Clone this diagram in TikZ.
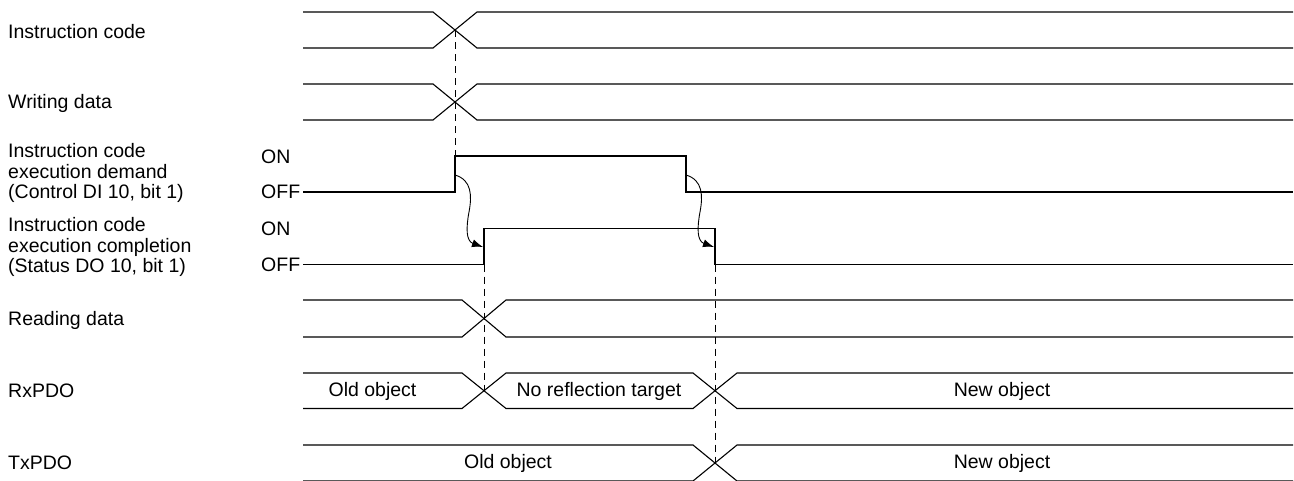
\documentclass[tikz,border=0pt]{standalone}
\usepackage{fontspec}
\setmainfont{Liberation Sans}
\usetikzlibrary{arrows.meta}
\begin{document}
\begin{tikzpicture}[x=1pt,y=-1pt,
  sig/.style={line width=1.1pt, line join=miter},
  guide/.style={line width=0.9pt, dash pattern=on 7pt off 5pt},
  cause/.style={line width=0.9pt, -{Latex[length=11pt,width=8pt]}},
  lbl/.style={anchor=west, inner sep=0pt, font=\fontsize{19.5}{20.7}\selectfont, align=left},
  txt/.style={inner sep=0pt, font=\fontsize{19.5}{20.7}\selectfont}]
\useasboundingbox (0,0) rectangle (1294,480);
\clip (0,0) rectangle (1294,480);

% left labels
\node[lbl] (l1) at (8,31.5) {Instruction code};
\node[lbl] (l2) at (8,103) {Writing data};
\node[lbl] (l3) at (8,173) {Instruction code\\execution demand\\(Control DI 10, bit 1)};
\node[lbl] (l4) at (8,247) {Instruction code\\execution completion\\(Status DO 10, bit 1)};
\node[lbl] (l5) at (8,320) {Reading data};
\node[lbl] (l6) at (8,391) {RxPDO};
\node[lbl] (l7) at (8,463) {TxPDO};

\node[lbl] (on1) at (261,157) {ON};
\node[lbl] (off1) at (261,192) {OFF};
\node[lbl] (on2) at (261,229) {ON};
\node[lbl] (off2) at (261,264.5) {OFF};

% buses
\draw[sig] (303,12) -- (433,12) -- (477,48) -- (1293,48);
\draw[sig] (303,48) -- (433,48) -- (477,12) -- (1293,12);

\draw[sig] (303,84) -- (433,84) -- (477,120) -- (1293,120);
\draw[sig] (303,120) -- (433,120) -- (477,84) -- (1293,84);

\draw[sig] (303,300) -- (462,300) -- (506,337) -- (1293,337);
\draw[sig] (303,337) -- (462,337) -- (506,300) -- (1293,300);

\draw[sig] (303,373) -- (462,373) -- (506,408.5) -- (693,408.5) -- (737,373) -- (1293,373);
\draw[sig] (303,408.5) -- (462,408.5) -- (506,373) -- (693,373) -- (737,408.5) -- (1293,408.5);

\draw[sig] (303,445) -- (693,445) -- (737,481) -- (1293,481);
\draw[sig] (303,481) -- (693,481) -- (737,445) -- (1293,445);

% binary signals
\draw[sig] (303,192) -- (455,192) -- (455,156) -- (686,156) -- (686,192) -- (1293,192);
\draw[sig] (303,264.5) -- (484,264.5) -- (484,228.7) -- (715,228.7) -- (715,264.5) -- (1293,264.5);

% bus texts
\node[txt] (o1) at (372.5,391) {Old object};
\node[txt] (nr) at (599,391) {No reflection target};
\node[txt] (n1) at (1002,391) {New object};
\node[txt] (o2) at (508,463) {Old object};
\node[txt] (n2) at (1002,463) {New object};

% guide coordinates
\coordinate (x1) at (455,30);
\coordinate (x1b) at (455,156);
\coordinate (x2) at (484,264.5);
\coordinate (x2b) at (484,390.75);
\coordinate (x3) at (715,264.5);
\coordinate (x3b) at (715,463);
\draw[guide] (x1) -- (x1b);
\draw[guide] (x2) -- (x2b);
\draw[guide] (x3) -- (x3b);

% cause arrows
\coordinate (a1) at (455,175);
\coordinate (a1e) at (483,247);
\coordinate (a2) at (686,175);
\coordinate (a2e) at (714,247);
\draw[cause] (a1) .. controls (472,180) and (472,196) .. (469,212) .. controls (466,228) and (466,241) .. (a1e);
\draw[cause] (a2) .. controls (703,180) and (703,196) .. (700,212) .. controls (697,228) and (697,241) .. (a2e);
\end{tikzpicture}
\end{document}
